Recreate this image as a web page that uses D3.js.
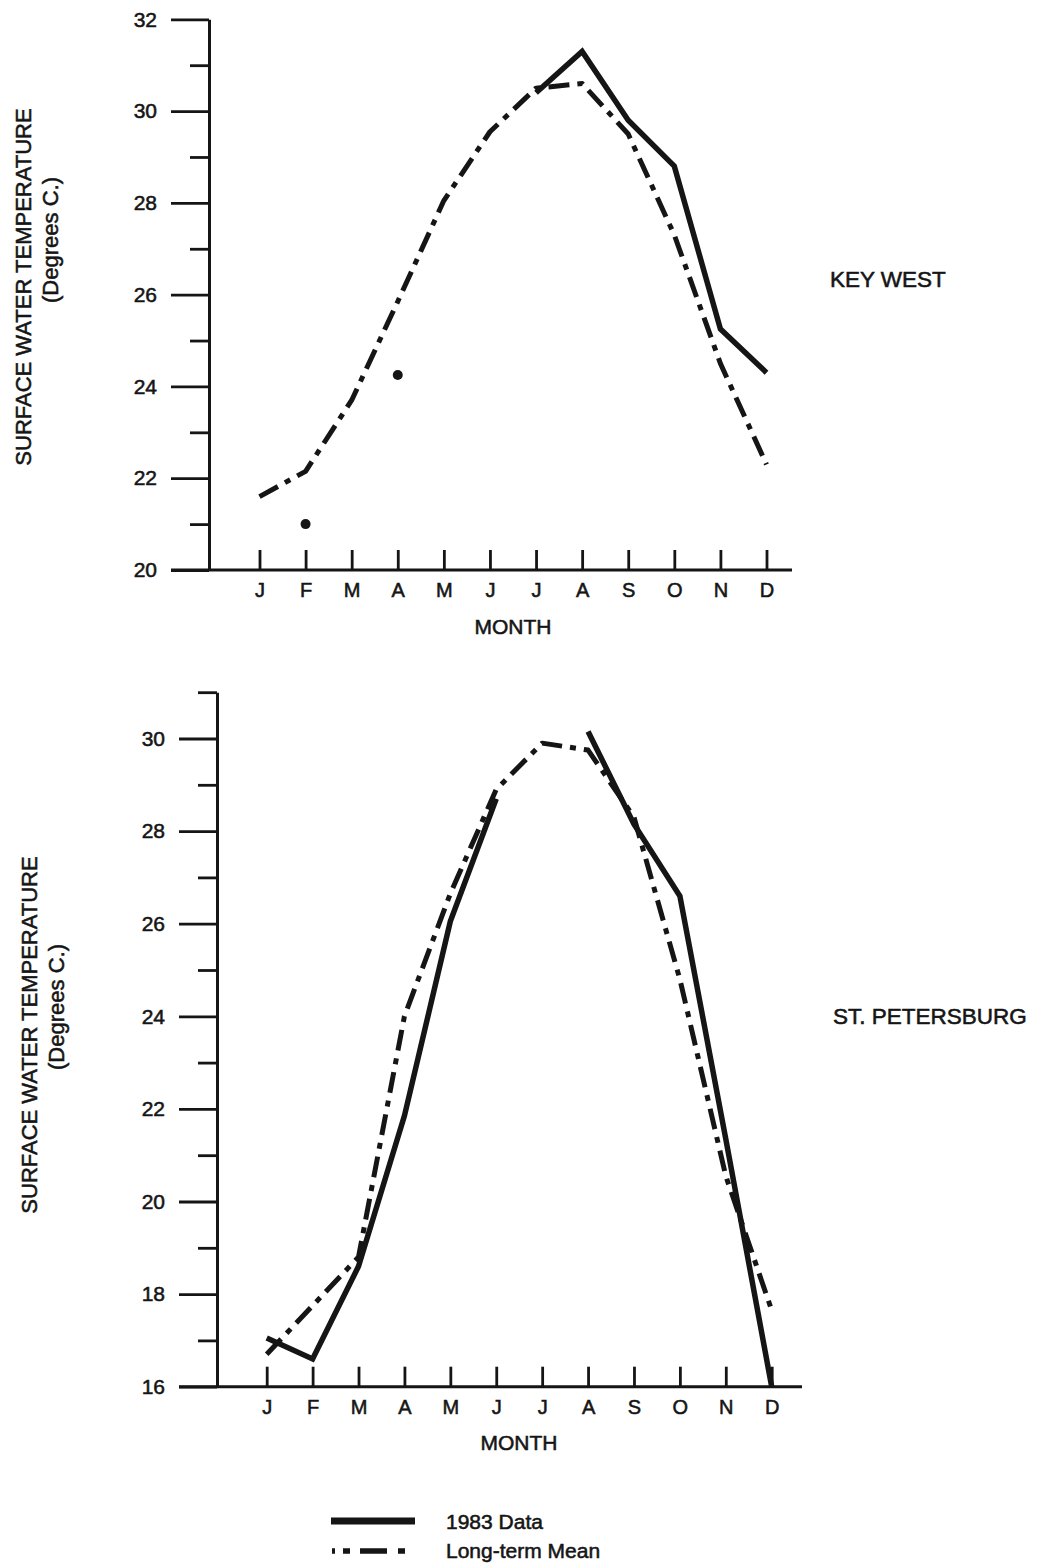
<!DOCTYPE html>
<html>
<head>
<meta charset="utf-8">
<script src="https://cdn.jsdelivr.net/npm/d3@7"></script>
<style>
  html, body { margin: 0; padding: 0; background: #ffffff; }
  svg { display: block; }
  text {
    font-family: "Liberation Sans", Arial, Helvetica, sans-serif;
    fill: #151515;
    stroke: #151515;
    stroke-width: 0.55px;
  }
</style>
</head>
<body>
<svg id="chart" width="1050" height="1566"></svg>
<script>
// Monthly surface water temperatures (degrees C)
const months = ["J", "F", "M", "A", "M", "J", "J", "A", "S", "O", "N", "D"];

// Key West: 1983 observations (null = no reading) and long-term monthly mean
const keyWest1983 = [null, 21.0, null, 24.25, null, null, 30.4, 31.3, 29.8, 28.8, 25.25, 24.3];
const keyWestMean = [21.6, 22.15, 23.7, 25.85, 28.05, 29.55, 30.5, 30.6, 29.5, 27.3, 24.5, 22.3];

// St. Petersburg: 1983 observations and long-term monthly mean
const stPete1983 = [17.05, 16.6, 18.6, 21.85, 26.05, 28.7, null, 30.15, 28.15, 26.6, 21.35, 16.0];
const stPeteMean = [16.7, 17.75, 18.8, 24.0, 26.65, 28.9, 29.9, 29.75, 28.3, 24.8, 20.55, 17.65];

// Axis tick values
const keyWestTickLabels = [20, 22, 24, 26, 28, 30, 32];
const keyWestMinorTicks = [21, 23, 25, 27, 29, 31];
const stPeteTickLabels = [16, 18, 20, 22, 24, 26, 28, 30];
const stPeteMinorTicks = [17, 19, 21, 23, 25, 27, 29, 31];

const INK = "#151515";
const svg = d3.select("#chart");

function drawPanel(opts) {
  const g = svg.append("g");

  const x = d3.scaleLinear().domain([0, months.length - 1]).range([opts.firstMonthX, opts.lastMonthX]);
  const y = d3.scaleLinear().domain(opts.yDomain).range([opts.baseY, opts.topY]);

  // minor (unlabelled) ticks on the temperature axis
  g.append("g")
    .attr("transform", `translate(${opts.axisX},0)`)
    .call(d3.axisLeft(y).tickValues(opts.minor).tickSize(19).tickSizeOuter(0).tickFormat(""))
    .call(a => a.select(".domain").remove())
    .call(a => a.selectAll("line").attr("stroke", INK).attr("stroke-width", 2.8));

  // labelled ticks and the vertical axis line
  g.append("g")
    .attr("transform", `translate(${opts.axisX},0)`)
    .call(d3.axisLeft(y).tickValues(opts.major).tickSize(38).tickSizeOuter(0).tickPadding(14).tickFormat(d3.format("d")))
    .call(a => a.select(".domain").attr("stroke", INK).attr("stroke-width", 3))
    .call(a => a.selectAll("line").attr("stroke", INK).attr("stroke-width", 2.8))
    .call(a => a.selectAll("text").attr("font-size", 21).attr("fill", INK)
      .style("font-family", '"Liberation Sans", Arial, sans-serif'));

  // horizontal baseline, extended left of the vertical axis
  g.append("line")
    .attr("x1", opts.axisX - 38).attr("x2", opts.xAxisEnd)
    .attr("y1", y(opts.yDomain[0])).attr("y2", y(opts.yDomain[0]))
    .attr("stroke", INK).attr("stroke-width", 3);

  // month ticks pointing upward, with month letters below
  g.append("g")
    .attr("transform", `translate(0,${y(opts.yDomain[0])})`)
    .call(d3.axisBottom(x).tickValues(d3.range(months.length)).tickSize(-20).tickSizeOuter(0)
      .tickPadding(13).tickFormat(i => months[i]))
    .call(a => a.select(".domain").remove())
    .call(a => a.selectAll("line").attr("stroke", INK).attr("stroke-width", 2.8))
    .call(a => a.selectAll("text").attr("font-size", 20).attr("fill", INK)
      .style("font-family", '"Liberation Sans", Arial, sans-serif'));

  g.append("text")
    .attr("x", opts.monthTitleX).attr("y", opts.monthTitleY)
    .attr("text-anchor", "middle").attr("font-size", 21)
    .text("MONTH");

  // vertical axis title
  g.append("text")
    .attr("transform", `translate(${opts.titleX},${opts.titleY}) rotate(-90)`)
    .attr("text-anchor", "middle").attr("font-size", 22)
    .text("SURFACE WATER TEMPERATURE");
  g.append("text")
    .attr("transform", `translate(${opts.subTitleX},${opts.subTitleY}) rotate(-90)`)
    .attr("text-anchor", "middle").attr("font-size", 22)
    .text("(Degrees C.)");

  // station name
  g.append("text")
    .attr("x", opts.nameX).attr("y", opts.nameY)
    .attr("font-size", 22.5)
    .text(opts.name);

  const line = d3.line()
    .defined(d => d != null)
    .x((d, i) => x(i))
    .y(d => y(d));

  // long-term mean, dash-dot
  g.append("path")
    .datum(opts.mean)
    .attr("d", line)
    .attr("fill", "none")
    .attr("stroke", INK)
    .attr("stroke-width", 5)
    .attr("stroke-dasharray", "21,8,6,8")
    .attr("stroke-linejoin", "round");

  // 1983 data, solid
  g.append("path")
    .datum(opts.obs)
    .attr("d", line)
    .attr("fill", "none")
    .attr("stroke", INK)
    .attr("stroke-width", 5.5)
    .attr("stroke-linejoin", "miter");

  // isolated 1983 readings shown as dots
  const isolated = opts.obs
    .map((v, i) => ({ v, i }))
    .filter(d => d.v != null &&
      (d.i === 0 || opts.obs[d.i - 1] == null) &&
      (d.i === opts.obs.length - 1 || opts.obs[d.i + 1] == null));
  g.selectAll("circle.reading")
    .data(isolated)
    .join("circle")
    .attr("class", "reading")
    .attr("cx", d => x(d.i))
    .attr("cy", d => y(d.v))
    .attr("r", 5)
    .attr("fill", INK);
}

drawPanel({
  name: "KEY WEST",
  obs: keyWest1983, mean: keyWestMean,
  major: keyWestTickLabels, minor: keyWestMinorTicks,
  yDomain: [20, 32], baseY: 570, topY: 19.3,
  axisX: 209, firstMonthX: 259.5, lastMonthX: 766.5, xAxisEnd: 792,
  monthTitleX: 513, monthTitleY: 634,
  titleX: 31, titleY: 287, subTitleX: 58, subTitleY: 240,
  nameX: 830, nameY: 287
});

drawPanel({
  name: "ST. PETERSBURG",
  obs: stPete1983, mean: stPeteMean,
  major: stPeteTickLabels, minor: stPeteMinorTicks,
  yDomain: [16, 31], baseY: 1386.7, topY: 692.2,
  axisX: 217, firstMonthX: 266.7, lastMonthX: 771.7, xAxisEnd: 802,
  monthTitleX: 519, monthTitleY: 1450,
  titleX: 37, titleY: 1035, subTitleX: 64, subTitleY: 1007,
  nameX: 833, nameY: 1024
});

// legend
const legend = svg.append("g");
legend.append("line")
  .attr("x1", 331).attr("x2", 415).attr("y1", 1521).attr("y2", 1521)
  .attr("stroke", INK).attr("stroke-width", 7);
legend.append("text").attr("x", 446).attr("y", 1529).attr("font-size", 21).text("1983 Data");
legend.append("line")
  .attr("x1", 332).attr("x2", 405).attr("y1", 1551).attr("y2", 1551)
  .attr("stroke", INK).attr("stroke-width", 5.5)
  .attr("stroke-dasharray", "3,8,7,10,27,11,7");
legend.append("text").attr("x", 446).attr("y", 1558).attr("font-size", 21).text("Long-term Mean");
</script>
</body>
</html>
